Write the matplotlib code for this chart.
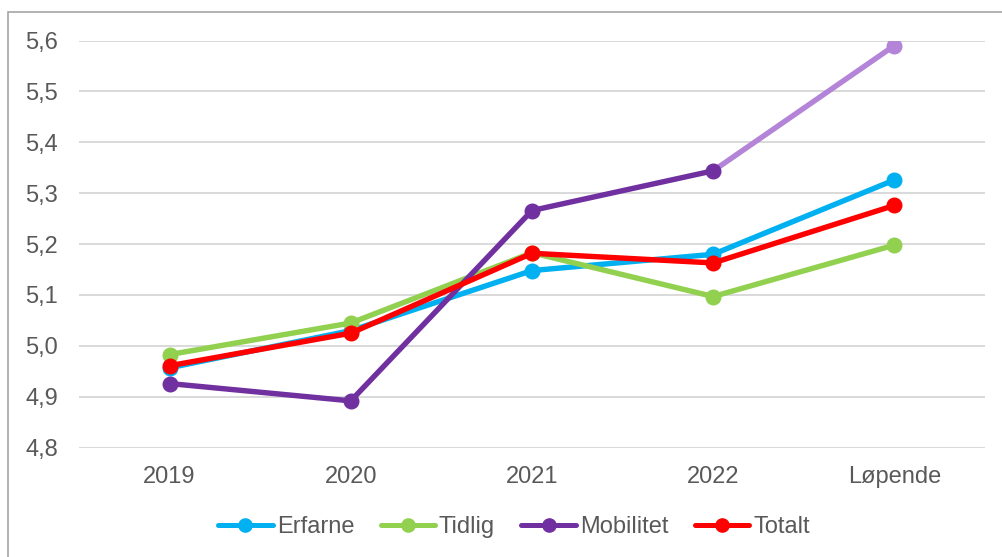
import matplotlib
matplotlib.use("Agg")
import matplotlib.pyplot as plt
from matplotlib.patches import Rectangle
from matplotlib.lines import Line2D
from matplotlib.ticker import FuncFormatter

plt.rcParams['font.family'] = ['Liberation Sans', 'DejaVu Sans']

categories = ["2019", "2020", "2021", "2022", "Løpende"]
erfarne = [4.957, 5.030, 5.148, 5.180, 5.326]
tidlig = [4.983, 5.045, 5.183, 5.097, 5.198]
mobilitet = [4.926, 4.892, 5.266, 5.344, 5.590]
totalt = [4.961, 5.025, 5.182, 5.163, 5.276]

c_erf = "#00B0F0"
c_tid = "#92D050"
c_mob = "#7030A0"
c_mob_light = "#B384D8"
c_tot = "#FF0000"
lw = 3.9
ms = 10.5
fs = 17

W, H = 1002, 557
fig = plt.figure(figsize=(W / 100, H / 100), dpi=100)
fig.patches.append(Rectangle((8 / W, -0.1), 1.2, 1 - 12 / H + 0.1, transform=fig.transFigure,
                             fill=False, edgecolor="#A6A6A6", linewidth=1.2))

ax = fig.add_axes([79 / W, 1 - 447.7 / H, (985 - 79) / W, (447.7 - 40.5) / H])
x = list(range(len(categories)))

ax.plot(x, erfarne, color=c_erf, lw=lw, marker="o", ms=ms, zorder=3, solid_capstyle="round")
ax.plot(x, tidlig, color=c_tid, lw=lw, marker="o", ms=ms, zorder=4, solid_capstyle="round")
ax.plot(x[3:], mobilitet[3:], color=c_mob_light, lw=lw, marker="o", ms=ms, zorder=5,
        markevery=[1], solid_capstyle="round")
ax.plot(x[:4], mobilitet[:4], color=c_mob, lw=lw, marker="o", ms=ms, zorder=5, solid_capstyle="round")
ax.plot(x, totalt, color=c_tot, lw=lw, marker="o", ms=ms, zorder=6, solid_capstyle="round")

ax.set_xlim(-0.5, len(categories) - 0.5)
ax.set_ylim(4.8, 5.6)
ax.set_yticks([4.8 + 0.1 * i for i in range(9)])
ax.yaxis.set_major_formatter(FuncFormatter(lambda v, p: f"{v:.1f}".replace(".", ",")))
ax.set_xticks(x)
ax.set_xticklabels(categories)
ax.grid(axis="y", color="#D9D9D9", lw=1.4)
ax.set_axisbelow(True)
for s in ax.spines.values():
    s.set_visible(False)
ax.tick_params(axis="both", length=0, labelsize=fs, labelcolor="#595959")
ax.tick_params(axis="y", pad=15)
ax.tick_params(axis="x", pad=13)

handles = [
    Line2D([], [], color=c_erf, lw=3.6, marker="o", ms=9.5, solid_capstyle="round"),
    Line2D([], [], color=c_tid, lw=3.6, marker="o", ms=9.5, solid_capstyle="round"),
    Line2D([], [], color=c_mob, lw=3.6, marker="o", ms=9.5, solid_capstyle="round"),
    Line2D([], [], color=c_tot, lw=3.6, marker="o", ms=9.5, solid_capstyle="round"),
]
leg = fig.legend(handles, ["Erfarne", "Tidlig", "Mobilitet", "Totalt"], loc="center",
                 bbox_to_anchor=(514 / W, 1 - 527 / H), ncol=4, frameon=False,
                 fontsize=fs, handlelength=2.3, handletextpad=0.17, columnspacing=1.12,
                 labelcolor="#595959")

fig.savefig("out.png", dpi=100)
